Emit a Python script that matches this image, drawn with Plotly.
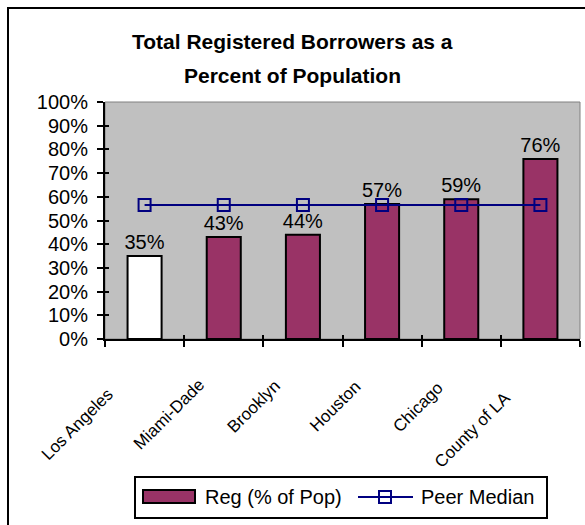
import plotly.graph_objects as go

# ---- data ----
categories = ["Los Angeles", "Miami-Dade", "Brooklyn", "Houston", "Chicago", "County of LA"]
reg_pct_pop = [0.35, 0.43, 0.44, 0.57, 0.59, 0.76]
peer_median = [0.565, 0.565, 0.565, 0.565, 0.565, 0.565]
title_lines = ["Total Registered Borrowers as a", "Percent of Population"]
series_names = ["Reg (% of Pop)", "Peer Median"]

# ---- styles ----
MAROON = "#993366"
NAVY = "#000080"
GRAY = "#C0C0C0"
FONT = "Liberation Sans, Arial, sans-serif"
bar_colors = ["white"] + [MAROON] * (len(categories) - 1)
# per-label nudges (pixels) for rotated category labels: (dx, dy)
label_nudge = [(-25, -43), (-13, -33), (-16, -35), (-15, -36), (-12, -37), (-23, -46)]

W, H = 585, 525
PL, PR, PT, PB = 105, 580, 102, 339


def px(x):
    return (x - PL) / (PR - PL)


def py(y):
    return (PB - y) / (PB - PT)


fig = go.Figure()
fig.add_trace(go.Bar(
    x=categories, y=reg_pct_pop, name=series_names[0],
    marker=dict(color=bar_colors, line=dict(color="black", width=2)),
    width=0.43,
    text=[f"{v:.0%}" for v in reg_pct_pop], textposition="outside",
    constraintext="none", cliponaxis=False,
    textfont=dict(family=FONT, size=20, color="black"),
    showlegend=False,
))
fig.add_trace(go.Scatter(
    x=categories, y=peer_median, name=series_names[1], mode="lines+markers",
    line=dict(color=NAVY, width=2),
    marker=dict(symbol="square-open", size=12, color=NAVY, line=dict(color=NAVY, width=2)),
    showlegend=False,
))
# empty trace to anchor the overlay axes that draw the inner half of the crossing ticks
fig.add_trace(go.Scatter(x=[], y=[], xaxis="x2", yaxis="y2", showlegend=False, hoverinfo="skip"))

shapes = []
# outer chart border (cropped at right/bottom)
shapes.append(dict(type="rect", xref="paper", yref="paper", x0=px(8), x1=px(600), y0=py(545), y1=py(8),
                   line=dict(color="black", width=2), layer="below"))
# plot area border
shapes.append(dict(type="rect", xref="paper", yref="paper", x0=0, x1=1, y0=0, y1=1,
                   line=dict(color="#808080", width=1), layer="below"))
# legend
shapes.append(dict(type="rect", xref="paper", yref="paper", x0=px(135), x1=px(547), y0=py(518), y1=py(477),
                   line=dict(color="black", width=2), fillcolor="white"))
shapes.append(dict(type="rect", xref="paper", yref="paper", x0=px(143), x1=px(195), y0=py(503), y1=py(490),
                   line=dict(color="black", width=2), fillcolor=MAROON))
shapes.append(dict(type="line", xref="paper", yref="paper", x0=px(358), x1=px(413), y0=py(497), y1=py(497),
                   line=dict(color=NAVY, width=2)))
shapes.append(dict(type="rect", xref="paper", yref="paper", x0=px(379), x1=px(391), y0=py(503), y1=py(491),
                   line=dict(color=NAVY, width=2)))

annotations = []
annotations.append(dict(text=title_lines[0], xref="paper", yref="paper", x=px(292), y=py(41),
                        xanchor="center", yanchor="middle", showarrow=False,
                        font=dict(family=FONT, size=21, color="black", weight="bold")))
annotations.append(dict(text=title_lines[1], xref="paper", yref="paper", x=px(292), y=py(75),
                        xanchor="center", yanchor="middle", showarrow=False,
                        font=dict(family=FONT, size=21, color="black", weight="bold")))
annotations.append(dict(text=series_names[0], xref="paper", yref="paper", x=px(203), y=py(497),
                        xanchor="left", yanchor="middle", showarrow=False,
                        font=dict(family=FONT, size=20, color="black")))
annotations.append(dict(text=series_names[1], xref="paper", yref="paper", x=px(419), y=py(497),
                        xanchor="left", yanchor="middle", showarrow=False,
                        font=dict(family=FONT, size=20, color="black")))
for i, c in enumerate(categories):
    dx, dy = label_nudge[i]
    annotations.append(dict(text=c, xref="x", yref="paper", x=c, y=0, xshift=dx, yshift=dy,
                            xanchor="right", yanchor="top", textangle=-45, showarrow=False,
                            font=dict(family=FONT, size=17, color="black")))

fig.update_layout(
    width=W, height=H,
    margin=dict(l=PL, r=W - PR, t=PT, b=H - PB, pad=0),
    paper_bgcolor="white", plot_bgcolor=GRAY,
    showlegend=False,
    xaxis=dict(type="category", range=[-0.5, 5.5], tickson="boundaries", ticks="outside", ticklen=6,
               tickwidth=2, tickcolor="black", showticklabels=False, showline=True, linecolor="black",
               linewidth=2, showgrid=False, zeroline=False, fixedrange=True),
    yaxis=dict(range=[0, 1], dtick=0.1, tickformat=".0%", ticks="outside", ticklen=6, tickwidth=2,
               tickcolor="black", showline=True, linecolor="black", linewidth=2, showgrid=False,
               zeroline=False, ticklabelstandoff=5,
               tickfont=dict(family=FONT, size=20, color="black")),
    xaxis2=dict(overlaying="x", anchor="y", range=[-0.5, 5.5], tickvals=[-0.5, 0.5, 1.5, 2.5, 3.5, 4.5, 5.5],
                ticks="inside", ticklen=4, tickwidth=2, tickcolor="black", showticklabels=False,
                showline=False, showgrid=False, zeroline=False, side="bottom"),
    yaxis2=dict(overlaying="y", anchor="x", range=[0, 1], dtick=0.1, ticks="inside", ticklen=4, tickwidth=2,
                tickcolor="black", showticklabels=False, showline=False, showgrid=False, zeroline=False,
                side="left"),
    shapes=shapes,
    annotations=annotations,
)

fig.write_html("out.html")
